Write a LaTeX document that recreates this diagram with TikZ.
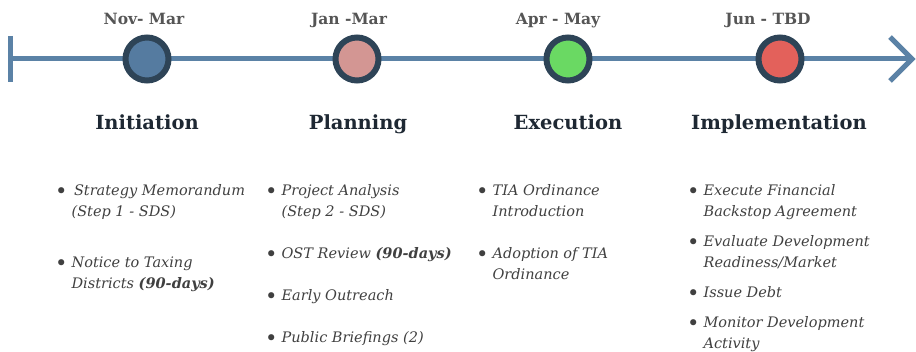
\documentclass[tikz,border=0pt]{standalone}
\usepackage{fontspec}
\setmainfont{DejaVu Serif}
\definecolor{axisblue}{HTML}{5B82A6}
\definecolor{ringdark}{HTML}{2E4457}
\definecolor{phaseA}{HTML}{557BA0}
\definecolor{phaseB}{HTML}{D39693}
\definecolor{phaseC}{HTML}{6AD963}
\definecolor{phaseD}{HTML}{E3615B}
\definecolor{dategray}{HTML}{555555}
\definecolor{headdark}{HTML}{1E2833}
\definecolor{itemgray}{HTML}{404040}
% one bullet entry: bullet column plus text column
\newcommand\tlitem[1]{\begin{tabular}{@{}l@{\hspace{4pt}}l@{}}\raisebox{-2.2pt}{\scalebox{1.45}{\textbullet}} & #1\end{tabular}}
\begin{document}
\begin{tikzpicture}[x=1pt,y=-1pt,
  axisline/.style={draw=axisblue,line width=5pt},
  milestone/.style={circle,draw=ringdark,line width=6pt,minimum size=43pt,inner sep=0pt},
  datelabel/.style={anchor=base,font=\bfseries\fontsize{15.5}{18}\selectfont,text=dategray,inner sep=0pt},
  phasehead/.style={anchor=base,font=\bfseries\fontsize{19.5}{23}\selectfont,text=headdark,inner sep=0pt},
  entry/.style={anchor=north west,inner sep=0pt,text=itemgray,
    font=\itshape\fontsize{14.5}{21}\selectfont}]
\useasboundingbox (0,0) rectangle (916,352);
% timeline axis
\coordinate (tstart) at (10,59);
\coordinate (tend) at (912,59);
\coordinate (bartop) at (10,36);
\coordinate (barbot) at (10,82);
\coordinate (headup) at (890,37);
\coordinate (headdown) at (890,81);
\draw[axisline] (tstart) -- (tend);
\draw[axisline,line cap=butt] (bartop) -- (barbot);
\draw[axisline,line join=miter] (headup) -- (tend) -- (headdown);
% milestones
\node[milestone,fill=phaseA] (m1) at (147,59) {};
\node[milestone,fill=phaseB] (m2) at (357,59) {};
\node[milestone,fill=phaseC] (m3) at (568,59) {};
\node[milestone,fill=phaseD] (m4) at (780,59) {};
% date ranges
\node[datelabel] (d1) at (144,25) {Nov- Mar};
\node[datelabel] (d2) at (349,25) {Jan -Mar};
\node[datelabel] (d3) at (558,25) {Apr - May};
\node[datelabel] (d4) at (768,25) {Jun - TBD};
% phase titles
\node[phasehead] (h1) at (147,130) {Initiation};
\node[phasehead] (h2) at (358,130) {Planning};
\node[phasehead] (h3) at (568,130) {Execution};
\node[phasehead] (h4) at (779,130) {Implementation};
% Initiation tasks
\node[entry] (i1) at (55,181) {\tlitem{\,Strategy Memorandum\\ & (Step 1 - SDS)}};
\node[entry] (i2) at (55,253) {\tlitem{Notice to Taxing\\ & Districts {\bfseries(90-days)}}};
% Planning tasks
\node[entry] (p1) at (265,181) {\tlitem{Project Analysis\\ & (Step 2 - SDS)}};
\node[entry] (p2) at (265,244) {\tlitem{OST Review {\bfseries(90-days)}}};
\node[entry] (p3) at (265,286) {\tlitem{Early Outreach}};
\node[entry] (p4) at (265,328) {\tlitem{Public Briefings (2)}};
% Execution tasks
\node[entry] (e1) at (476,181) {\tlitem{TIA Ordinance\\ & Introduction}};
\node[entry] (e2) at (476,244) {\tlitem{Adoption of TIA\\ & Ordinance}};
% Implementation tasks
\node[entry] (k1) at (687,181) {\tlitem{Execute Financial\\ & Backstop Agreement}};
\node[entry] (k2) at (687,232) {\tlitem{Evaluate Development\\ & Readiness/Market}};
\node[entry] (k3) at (687,283) {\tlitem{Issue Debt}};
\node[entry] (k4) at (687,313) {\tlitem{Monitor Development\\ & Activity}};
\end{tikzpicture}
\end{document}
